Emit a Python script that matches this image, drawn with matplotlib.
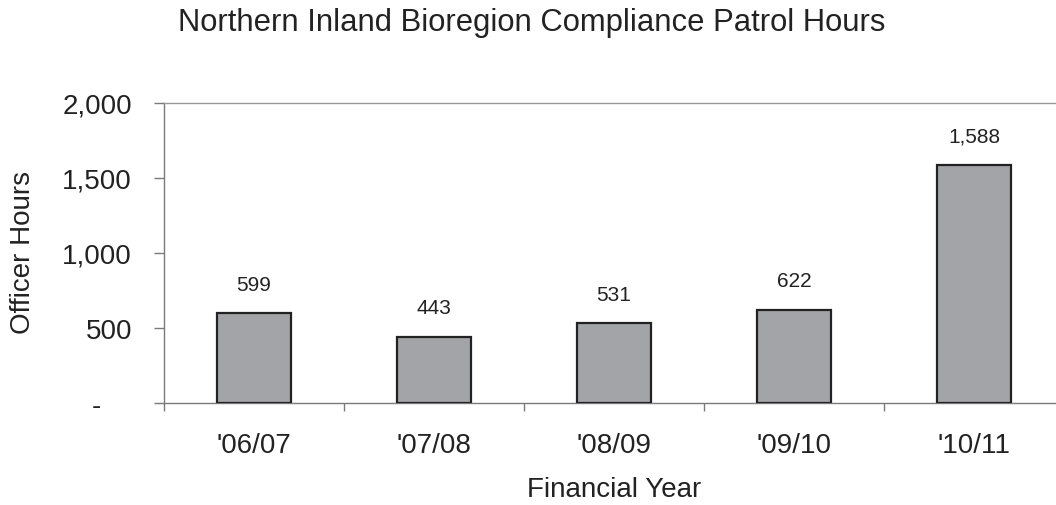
import matplotlib
matplotlib.use("Agg")
import matplotlib.pyplot as plt

years = ["'06/07", "'07/08", "'08/09", "'09/10", "'10/11"]
hours = [599, 443, 531, 622, 1588]
yticks = [0, 500, 1000, 1500, 2000]
ytick_labels = ["-    ", "500", "1,000", "1,500", "2,000"]

plt.rcParams['font.family'] = ['Liberation Sans', 'DejaVu Sans']
txt = '#222222'
spine = '#7a7a7a'

fig = plt.figure(figsize=(10.56, 5.06), dpi=100)
W, H = 1056, 506
ax = fig.add_axes([164 / W, (H - 404) / H, 900 / W, 300 / H])

x = list(range(len(years)))
bars = ax.bar(x, hours, width=0.41, color='#a3a4a7', edgecolor='#222222', linewidth=1.6, zorder=3)
for xi, v in zip(x, hours):
    ax.annotate(f"{v:,}", (xi, v), xytext=(0, 14), textcoords='offset points',
                ha='center', va='bottom', fontsize=15, color=txt)

ax.set_xlim(-0.5, len(years) - 0.5)
ax.set_ylim(0, 2000)
ax.set_yticks(yticks)
ax.set_yticklabels(ytick_labels)
ax.set_xticks(x)
ax.set_xticklabels(years)
ax.set_xticks([i - 0.5 for i in range(len(years) + 1)], minor=True)
ax.tick_params(axis='x', which='major', length=0, pad=21, labelsize=20, labelcolor=txt)
ax.tick_params(axis='x', which='minor', length=6, width=1, color=spine, direction='out')
ax.tick_params(axis='y', length=7, width=1, color=spine, direction='out', pad=16, labelsize=20, labelcolor=txt)

for s in ['left', 'bottom', 'top', 'right']:
    ax.spines[s].set_color(spine)
    ax.spines[s].set_linewidth(1)
ax.spines['top'].set_color('#9a9a9a')

fig.text(614 / W, 1 - 490 / H, "Financial Year", ha='center', va='center', fontsize=20, color=txt)
fig.text(23 / W, 1 - 252 / H, "Officer Hours", ha='center', va='center', rotation=90,
         fontsize=20, color=txt)
fig.text(532 / W, 1 - 23 / H, "Northern Inland Bioregion Compliance Patrol Hours",
         ha='center', va='center', fontsize=22.3, color=txt)

fig.savefig("out.png", dpi=100)
